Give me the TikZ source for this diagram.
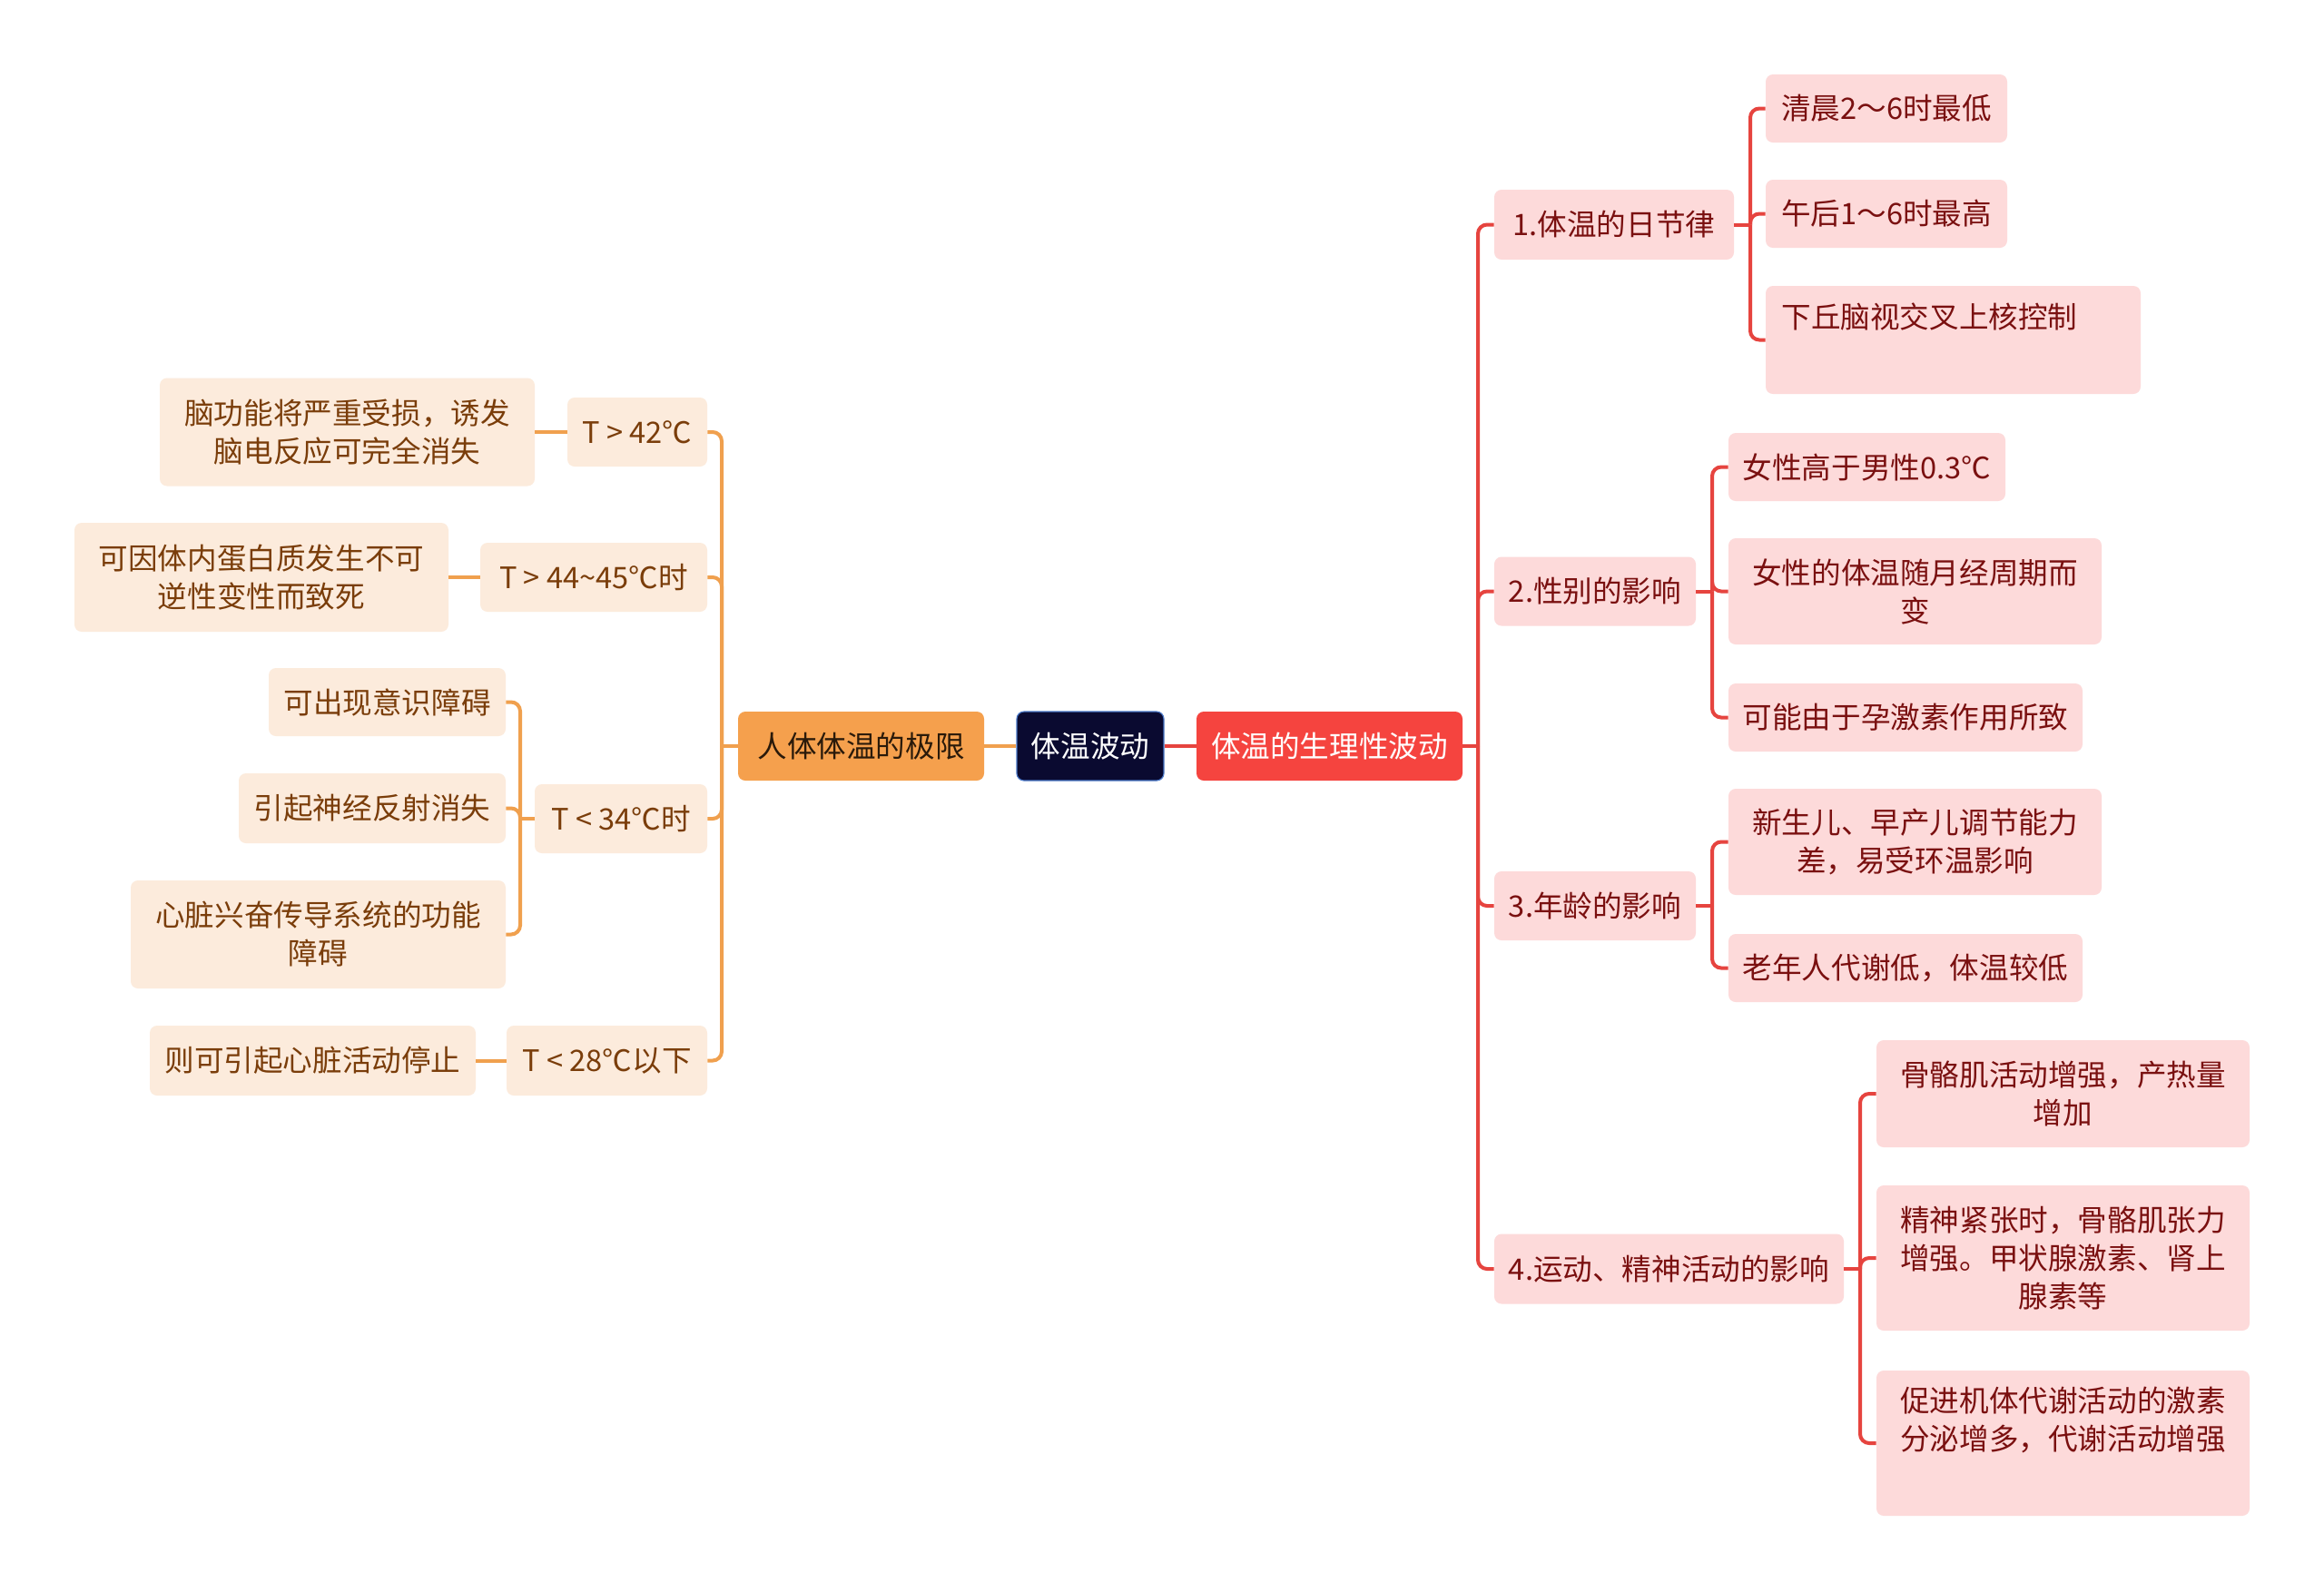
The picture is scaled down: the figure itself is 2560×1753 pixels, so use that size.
\documentclass[tikz,border=0pt]{standalone}
\usepackage{fontspec}
\newfontfamily\cjk{Noto Sans CJK SC}
\definecolor{navyc}{HTML}{0A0A30}
\definecolor{navyborder}{HTML}{4A78C8}
\definecolor{redc}{HTML}{F5443F}
\definecolor{redline}{HTML}{E6443F}
\definecolor{orangec}{HTML}{F5A04D}
\definecolor{orangeline}{HTML}{F0A04E}
\definecolor{peachc}{HTML}{FCEBDC}
\definecolor{pinkc}{HTML}{FDDADA}
\definecolor{brownc}{HTML}{7A3D0A}
\definecolor{darkbrown}{HTML}{2A1A0A}
\definecolor{darkred}{HTML}{7A1010}
\tikzset{
  base/.style={rounded corners=4pt, inner sep=0pt, align=center,
    font=\cjk\fontsize{16.3}{21}\selectfont},
  rootbox/.style={base, fill=navyc, draw=navyborder, line width=0.6pt, text=white},
  redmain/.style={base, fill=redc, text=white},
  orangemain/.style={base, fill=orangec, text=darkbrown},
  peach/.style={base, fill=peachc, text=brownc},
  pink/.style={base, fill=pinkc, text=darkred},
  rline/.style={draw=redline, line width=2pt, rounded corners=5pt},
  oline/.style={draw=orangeline, line width=2pt, rounded corners=5pt},
}
\begin{document}
\begin{tikzpicture}[x=0.5pt,y=-0.5pt]
\useasboundingbox[fill=white] (0,0) rectangle (2560,1753);

% center and main branches
\node[rootbox, minimum width=81pt, minimum height=38pt] (c0) at (1201,822) {体温波动};
\node[redmain, minimum width=146.5pt, minimum height=38pt] (r1) at (1464.5,822) {体温的生理性波动};
\node[orangemain, minimum width=135.5pt, minimum height=38pt] (l1) at (948.5,822) {人体体温的极限};
\draw[rline] (c0.east) -- (r1.west);
\draw[oline] (l1.east) -- (c0.west);

% right level 2
\node[pink, minimum width=132pt, minimum height=38.5pt] (a1) at (1778,247.5) {1.体温的日节律};
\node[pink, minimum width=111pt, minimum height=38pt] (a2) at (1757,651.5) {2.性别的影响};
\node[pink, minimum width=111pt, minimum height=38pt] (a3) at (1757,998) {3.年龄的影响};
\node[pink, minimum width=192.5pt, minimum height=38.5pt] (a4) at (1838.5,1398) {4.运动、精神活动的影响};

\coordinate (rj) at (1628,822);
\draw[rline] (r1.east) -- (rj);
\foreach \n in {a1,a2,a3,a4} \draw[rline] (rj) |- (\n.west);

% group 1
\node[pink, minimum width=133pt, minimum height=37.5pt] (b11) at (2078,119.5) {清晨2～6时最低};
\node[pink, minimum width=133pt, minimum height=37.5pt] (b12) at (2078,235.5) {午后1～6时最高};
\node[pink, minimum width=206.5pt, minimum height=59.5pt] (b13) at (2151.5,374.5) {下丘脑视交叉上核控制\hspace*{26pt}\\\strut};
\coordinate (j1) at (1928,247.5);
\draw[rline] (a1.east) -- (j1);
\foreach \n in {b11,b12,b13} \draw[rline] (j1) |- (\n.west);

% group 2
\node[pink, minimum width=152.5pt, minimum height=37.5pt] (b21) at (2056.5,514.5) {女性高于男性0.3℃};
\node[pink, minimum width=205.5pt, minimum height=58.5pt] (b22) at (2109.5,651.5) {女性的体温随月经周期而\\变};
\node[pink, minimum width=195pt, minimum height=37.5pt] (b23) at (2099,790.5) {可能由于孕激素作用所致};
\coordinate (j2) at (1886,651.5);
\draw[rline] (a2.east) -- (j2);
\foreach \n in {b21,b22,b23} \draw[rline] (j2) |- (\n.west);

% group 3
\node[pink, minimum width=205.5pt, minimum height=58.5pt] (b31) at (2109.5,927.5) {新生儿、早产儿调节能力\\差，易受环温影响};
\node[pink, minimum width=195pt, minimum height=37.5pt] (b32) at (2099,1066.5) {老年人代谢低，体温较低};
\coordinate (j3) at (1886,998);
\draw[rline] (a3.east) -- (j3);
\foreach \n in {b31,b32} \draw[rline] (j3) |- (\n.west);

% group 4
\node[pink, minimum width=205.5pt, minimum height=59pt] (b41) at (2272.5,1205) {骨骼肌活动增强，产热量\\增加};
\node[pink, minimum width=205.5pt, minimum height=80pt] (b42) at (2272.5,1386) {精神紧张时，骨骼肌张力\\增强。甲状腺激素、肾上\\腺素等};
\node[pink, minimum width=205.5pt, minimum height=80pt] (b43) at (2272.5,1590) {促进机体代谢活动的激素\\分泌增多，代谢活动增强\\\strut};
\coordinate (j4) at (2049,1398);
\draw[rline] (a4.east) -- (j4);
\foreach \n in {b41,b42,b43} \draw[rline] (j4) |- (\n.west);

% left level 2
\node[peach, minimum width=77pt, minimum height=38pt] (c1) at (702,476) {T > 42℃};
\node[peach, minimum width=125pt, minimum height=38pt] (c2) at (654,636) {T > 44\textasciitilde 45℃时};
\node[peach, minimum width=95pt, minimum height=38pt] (c3) at (684,902) {T < 34℃时};
\node[peach, minimum width=110.5pt, minimum height=38.5pt] (c4) at (668.5,1168.5) {T < 28℃以下};
\coordinate (lj) at (795,822);
\draw[oline] (l1.west) -- (lj);
\foreach \n in {c1,c2,c3,c4} \draw[oline] (lj) |- (\n.east);

% left level 3
\node[peach, minimum width=206.5pt, minimum height=59.5pt] (d11) at (382.5,476) {脑功能将严重受损，诱发\\脑电反应可完全消失};
\node[peach, minimum width=206pt, minimum height=60pt] (d21) at (288,636) {可因体内蛋白质发生不可\\逆性变性而致死};
\node[peach, minimum width=130.5pt, minimum height=37.5pt] (d31) at (426.5,773.5) {可出现意识障碍};
\node[peach, minimum width=147pt, minimum height=38.5pt] (d32) at (410,890.5) {引起神经反射消失};
\node[peach, minimum width=206.5pt, minimum height=59.5pt] (d33) at (350.5,1029.5) {心脏兴奋传导系统的功能\\障碍};
\node[peach, minimum width=179.5pt, minimum height=38.5pt] (d41) at (344.5,1168.5) {则可引起心脏活动停止};

\draw[oline] (c1.west) -- (d11.east);
\draw[oline] (c2.west) -- (d21.east);
\draw[oline] (c4.west) -- (d41.east);
\coordinate (lj3) at (573,902);
\draw[oline] (c3.west) -- (lj3);
\foreach \n in {d31,d32,d33} \draw[oline] (lj3) |- (\n.east);
\end{tikzpicture}
\end{document}
